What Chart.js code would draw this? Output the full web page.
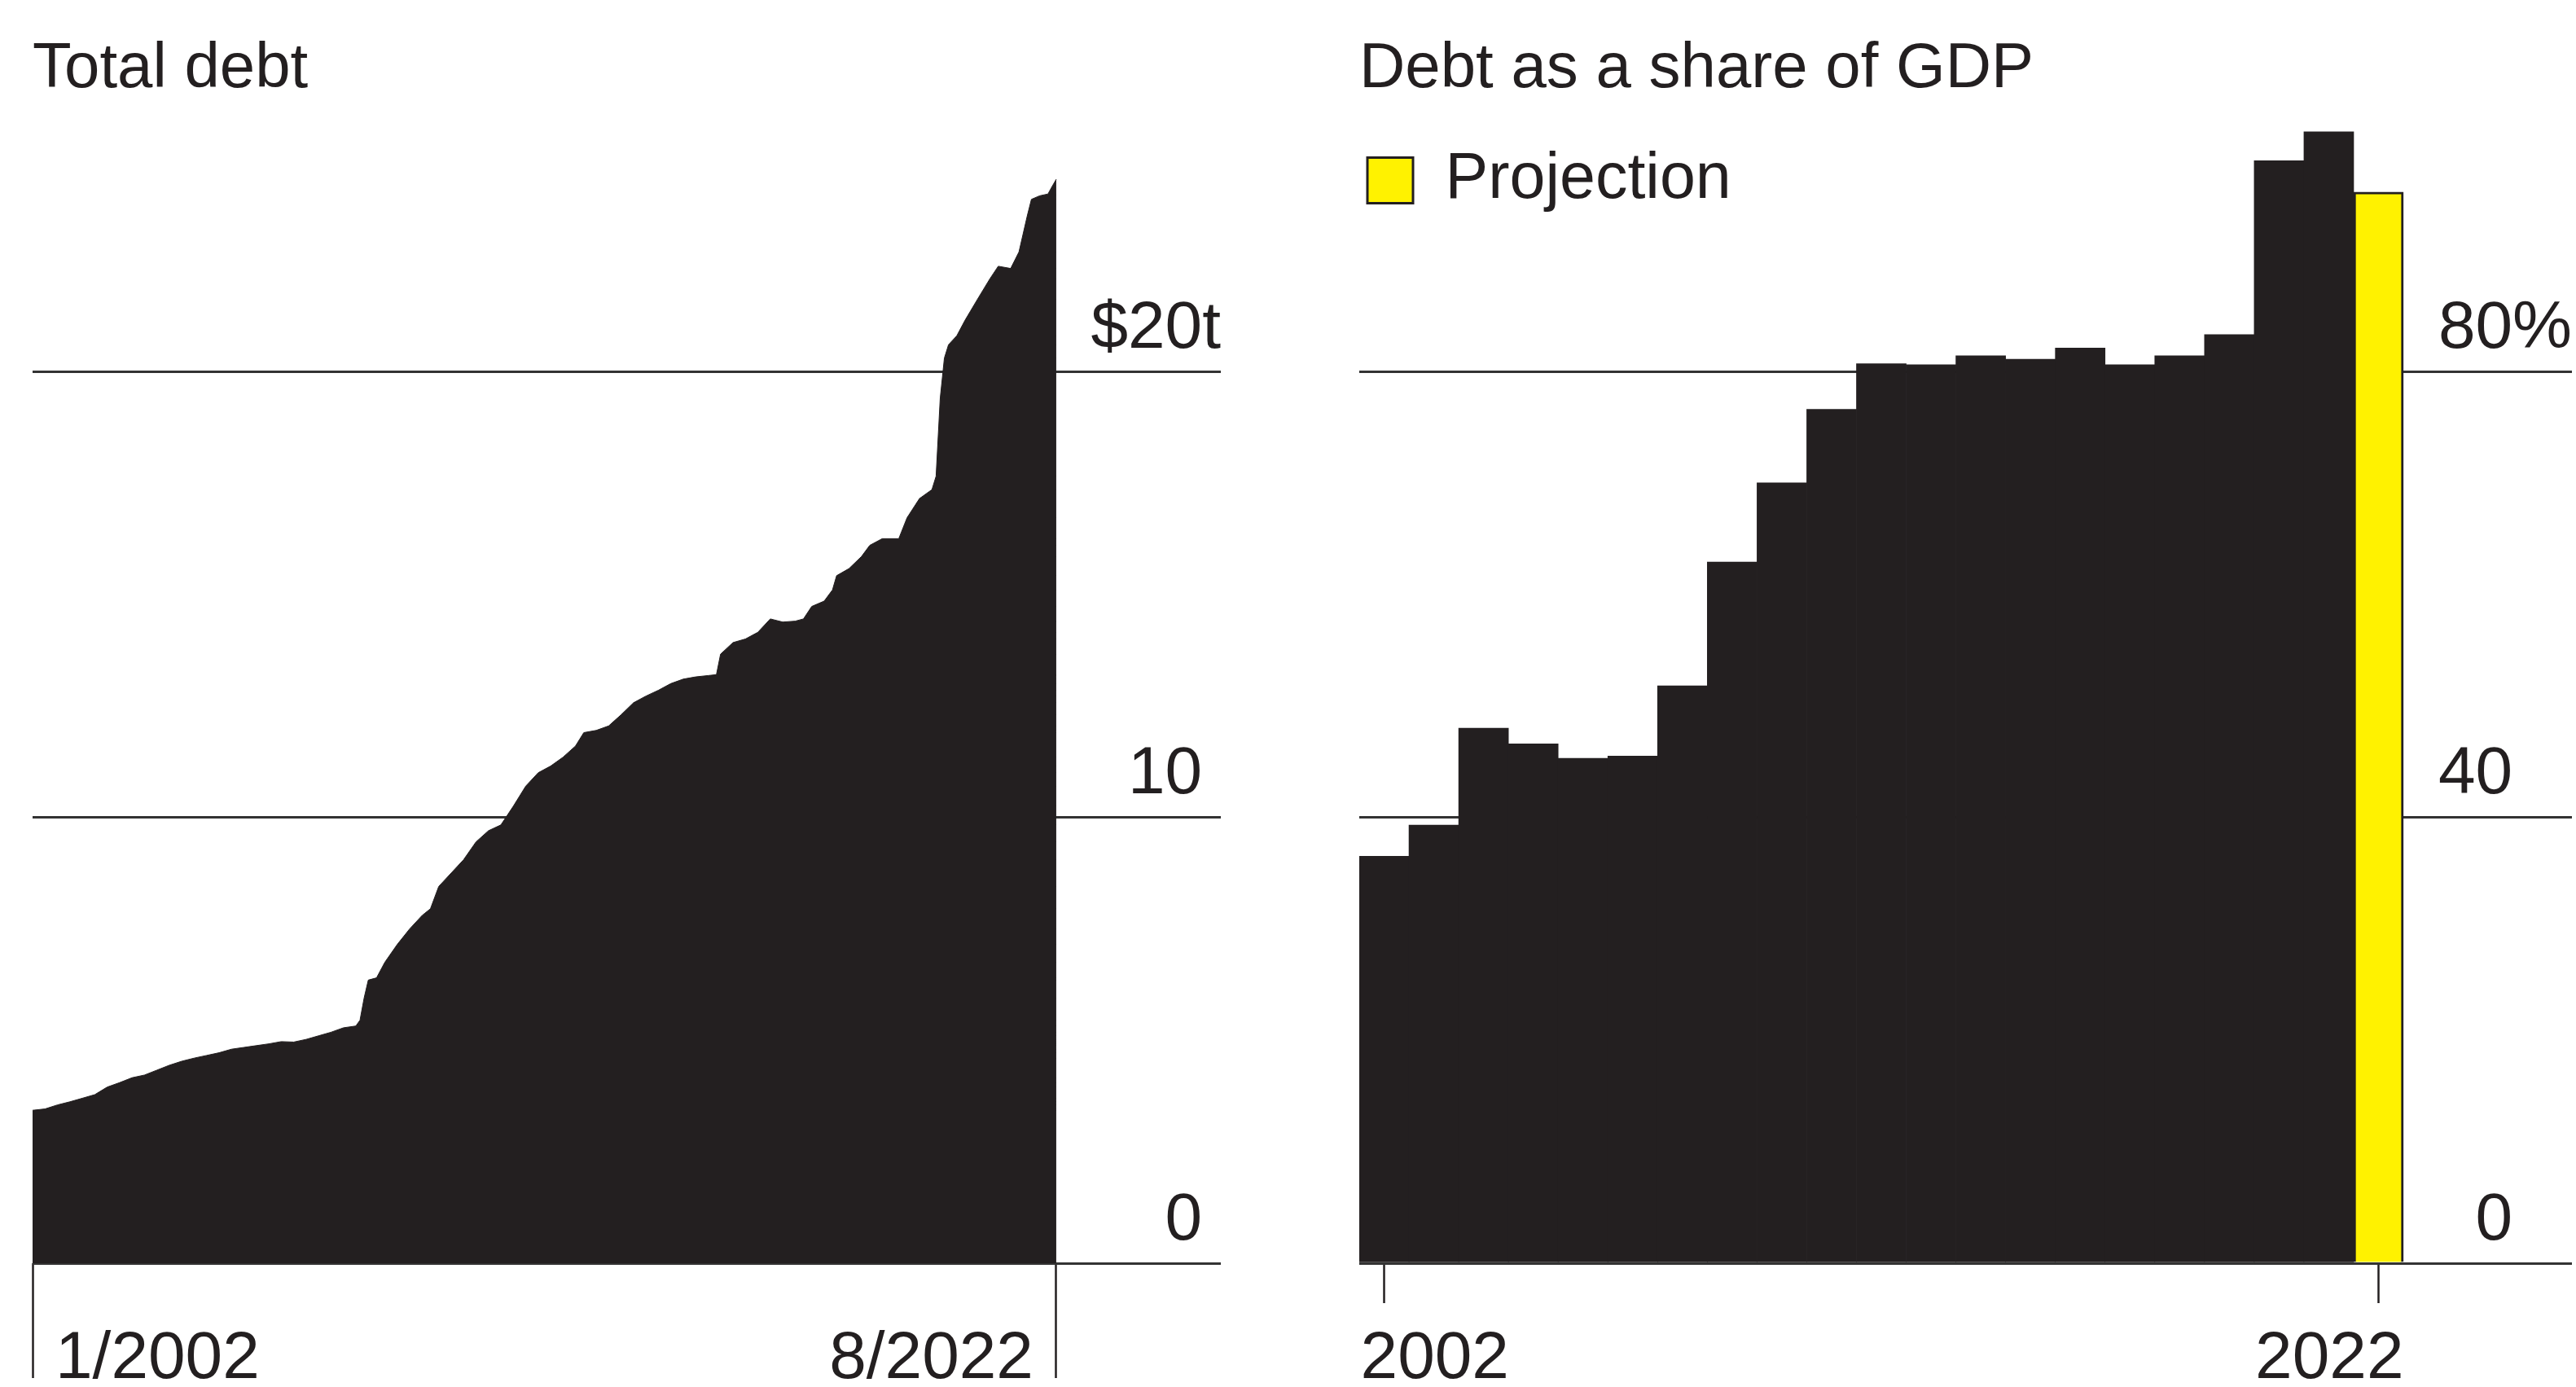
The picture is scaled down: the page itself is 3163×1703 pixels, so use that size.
<!DOCTYPE html>
<html>
<head>
<meta charset="utf-8">
<script src="https://cdn.jsdelivr.net/npm/chart.js@4.4.1/dist/chart.umd.min.js"></script>
<style>
  html, body { margin: 0; padding: 0; background: #fff; }
  #wrap { position: relative; width: 3163px; height: 1703px; }
  canvas { position: absolute; top: 0; }
  #debt { left: 0; }
  #share { left: 1580px; }
</style>
</head>
<body>
<div id="wrap">
  <canvas id="debt" width="1580" height="1703"></canvas>
  <canvas id="share" width="1583" height="1703"></canvas>
</div>
<script>
// Total debt, $ trillions (month, value)
const debtMonths = [
  "2002-01", "2002-04", "2002-07", "2002-10", "2003-01", "2003-04", "2003-07", "2003-10",
  "2004-01", "2004-04", "2004-07", "2004-10", "2005-01", "2005-04", "2005-07", "2005-10",
  "2006-01", "2006-04", "2006-07", "2006-10", "2007-01", "2007-04", "2007-07", "2007-10",
  "2008-01", "2008-04", "2008-07", "2008-08", "2008-09", "2008-10", "2008-12", "2009-02",
  "2009-05", "2009-08", "2009-11", "2010-01", "2010-03", "2010-06", "2010-09", "2010-12",
  "2011-03", "2011-06", "2011-09", "2011-12", "2012-03", "2012-06", "2012-09", "2012-12",
  "2013-02", "2013-05", "2013-08", "2013-11", "2014-02", "2014-05", "2014-08", "2014-11",
  "2015-02", "2015-05", "2015-08", "2015-10", "2015-11", "2016-02", "2016-05", "2016-08",
  "2016-11", "2017-02", "2017-05", "2017-07", "2017-09", "2017-12", "2018-02", "2018-03",
  "2018-06", "2018-09", "2018-11", "2019-02", "2019-06", "2019-08", "2019-11", "2020-02",
  "2020-03", "2020-04", "2020-05", "2020-06", "2020-08", "2020-10", "2021-01", "2021-04",
  "2021-06", "2021-09", "2021-11", "2022-01", "2022-02", "2022-04", "2022-06", "2022-07",
  "2022-08"
];
const debtValues = [
  3.43, 3.46, 3.55, 3.62, 3.70, 3.78, 3.95, 4.05,
  4.16, 4.22, 4.33, 4.44, 4.53, 4.60, 4.66, 4.72,
  4.80, 4.84, 4.88, 4.92, 4.97, 4.96, 5.02, 5.10,
  5.18, 5.28, 5.32, 5.45, 5.95, 6.35, 6.40, 6.75,
  7.15, 7.50, 7.80, 7.95, 8.45, 8.75, 9.05, 9.45,
  9.70, 9.83, 10.25, 10.70, 11.00, 11.15, 11.35, 11.60,
  11.90, 11.95, 12.05, 12.30, 12.57, 12.72, 12.85, 13.00,
  13.10, 13.15, 13.18, 13.20, 13.66, 13.92, 14.00, 14.15,
  14.45, 14.38, 14.40, 14.45, 14.73, 14.85, 15.10, 15.42,
  15.58, 15.85, 16.10, 16.25, 16.25, 16.72, 17.15, 17.35,
  17.65, 19.40, 20.30, 20.60, 20.80, 21.15, 21.62, 22.08,
  22.36, 22.31, 22.68, 23.49, 23.86, 23.94, 23.98, 24.15,
  24.31
];
const debtXTicks = ["2002-01", "2022-08"];
const debtXLabels = ["1/2002", "8/2022"];
const debtYTicks = [0, 10, 20];
const debtYLabels = ["0", "10", "$20t"];

// Debt as a share of GDP, percent
const shareYears = [2002, 2003, 2004, 2005, 2006, 2007, 2008, 2009, 2010, 2011,
                    2012, 2013, 2014, 2015, 2016, 2017, 2018, 2019, 2020, 2021];
const shareValues = [36.5, 39.3, 48.0, 46.6, 45.3, 45.5, 51.8, 62.9, 70.0, 76.6,
                     80.7, 80.6, 81.4, 81.1, 82.1, 80.6, 81.4, 83.3, 98.9, 101.5];
const projectionYears = [2022];
const projectionValues = [96.1];
const shareXTicks = [2002, 2022];
const shareXLabels = ["2002", "2022"];
const shareYTicks = [0, 40, 80];
const shareYLabels = ["0", "40", "80%"];

const INK = "#231f20";
const GRID = "#333333";
const YELLOW = "#fff200";
const FONT = "'Liberation Sans', Arial, Helvetica, sans-serif";

Chart.defaults.font.family = FONT;
Chart.defaults.color = INK;
Chart.defaults.animation = false;

const monthIndex = (s) => {
  const [y, m] = s.split("-").map(Number);
  return (y - 2002) * 12 + (m - 1);
};

// axis text: value labels with the unit hanging past the numbers,
// and the two end labels under the x axis
const axisText = {
  id: "axisText",
  afterDraw(chart, args, opts) {
    const { ctx, chartArea } = chart;
    const x = chart.scales.x, y = chart.scales.y;
    const tail = (s) => s.match(/[^0-9]*$/)[0];
    ctx.save();
    ctx.fillStyle = INK;
    ctx.textBaseline = "middle";
    ctx.font = opts.size + "px " + FONT;
    const hang = Math.max(...opts.yLabels.map((s) => ctx.measureText(tail(s)).width));
    const anchor = chartArea.right - hang;
    ctx.textAlign = "right";
    y.ticks.forEach((t, i) => {
      const s = opts.yLabels[i];
      ctx.fillText(s, anchor + ctx.measureText(tail(s)).width, y.getPixelForValue(t.value) + opts.yShift);
    });
    x.ticks.forEach((t, i) => {
      ctx.textAlign = i === 0 ? "left" : "right";
      ctx.fillText(opts.xLabels[i], x.getPixelForValue(t.value) + opts.xShift[i], x.top + opts.xDrop);
    });
    ctx.restore();
  }
};

const titleOpts = (text) => ({
  display: true,
  text: text,
  align: "start",
  color: INK,
  font: { size: 78, weight: "normal" },
  padding: { top: 39, bottom: -5 }
});

const yAxis = (max, ticks) => ({
  type: "linear",
  position: "right",
  min: 0,
  max: max,
  afterBuildTicks: (s) => { s.ticks = ticks.map((v) => ({ value: v })); },
  grid: { color: GRID, lineWidth: 3, drawTicks: false },
  border: { display: false },
  ticks: { display: false }
});

const xAxis = (min, max, ticks, tickLen) => ({
  type: "linear",
  position: "bottom",
  offset: false,
  min: min,
  max: max,
  afterBuildTicks: (s) => { s.ticks = ticks.map((v) => ({ value: v })); },
  afterFit: (s) => { s.height = 152; },
  grid: { offset: false, drawOnChartArea: false, drawTicks: true, tickLength: tickLen, tickColor: INK, tickWidth: 2.5 },
  border: { display: false },
  ticks: { display: false }
});

// left panel: area
new Chart(document.getElementById("debt"), {
  type: "line",
  data: {
    datasets: [{
      label: "Total debt",
      data: debtMonths.map((m, i) => ({ x: monthIndex(m), y: debtValues[i] })),
      fill: "origin",
      backgroundColor: INK,
      borderColor: INK,
      borderWidth: 1,
      pointRadius: 0,
      tension: 0
    }]
  },
  options: {
    responsive: false,
    layout: { padding: { left: 40, right: 81, top: 0, bottom: 0 } },
    plugins: {
      legend: { display: false },
      tooltip: { enabled: false },
      title: titleOpts("Total debt"),
      axisText: { size: 82, yLabels: debtYLabels, yShift: -52, xLabels: debtXLabels, xShift: [28, -28], xDrop: 118 }
    },
    scales: {
      // x runs on past the last month so the gridlines reach under the value labels
      x: xAxis(0, 286.7, debtXTicks.map(monthIndex), 141),
      y: yAxis(26, debtYTicks)
    }
  },
  plugins: [axisText]
});

// right panel: bars
new Chart(document.getElementById("share"), {
  type: "bar",
  data: {
    datasets: [
      {
        label: "Debt",
        data: shareYears.map((y, i) => ({ x: y, y: shareValues[i] })),
        backgroundColor: INK,
        borderWidth: 0,
        grouped: false,
        barPercentage: 1,
        categoryPercentage: 1
      },
      {
        label: "Projection",
        data: projectionYears.map((y, i) => ({ x: y, y: projectionValues[i] })),
        backgroundColor: YELLOW,
        borderColor: INK,
        borderWidth: 3,
        grouped: false,
        barPercentage: 1,
        categoryPercentage: 1
      }
    ]
  },
  options: {
    responsive: false,
    layout: { padding: { left: 89, right: 5, top: 0, bottom: 0 } },
    plugins: {
      tooltip: { enabled: false },
      title: titleOpts("Debt as a share of GDP"),
      legend: {
        position: "chartArea",
        align: "start",
        // empty legend title only used as a spacer above the key
        title: { display: true, text: "", padding: 80, font: { size: 10 } },
        labels: {
          filter: (item) => item.text === "Projection",
          boxWidth: 56,
          boxHeight: 56,
          padding: 10,
          color: INK,
          font: { size: 79 }
        }
      },
      axisText: { size: 82, yLabels: shareYLabels, yShift: -52, xLabels: shareXLabels, xShift: [-29, 31], xDrop: 118 }
    },
    scales: {
      x: xAxis(2001.5, 2025.89, shareXTicks, 49),
      y: yAxis(104, shareYTicks)
    }
  },
  plugins: [axisText]
});
</script>
</body>
</html>
